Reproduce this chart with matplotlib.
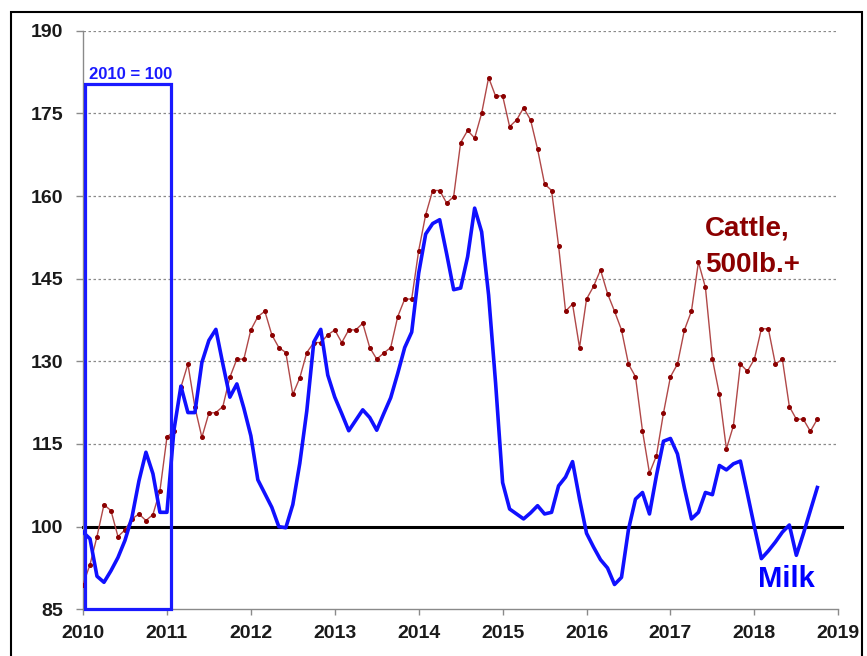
import numpy as np
from matplotlib import pyplot as plt
from matplotlib.patches import Rectangle

# monthly index values, Jan 2010 .. Oct 2018 (2010 = 100)
cattle = [89.5, 93.1, 98.2, 104.0, 102.9, 98.2, 99.4, 101.4, 102.3, 101.1, 102.2, 106.5,
          116.2, 117.4, 125.3, 129.5, 121.7, 116.2, 120.6, 120.7, 121.8, 127.1, 130.4, 130.4,
          135.7, 138.1, 139.1, 134.8, 132.5, 131.6, 124.0, 127.0, 131.6, 133.4, 133.4, 134.8,
          135.7, 133.4, 135.7, 135.7, 136.9, 132.5, 130.4, 131.5, 132.5, 138.1, 141.3, 141.3,
          150.1, 156.6, 161.0, 161.0, 158.7, 159.9, 169.7, 171.9, 170.5, 175.0, 181.5, 178.1,
          178.2, 172.6, 173.8, 176.0, 173.8, 168.5, 162.2, 161.0, 151.0, 139.1, 140.4, 132.5,
          141.3, 143.6, 146.6, 142.3, 139.1, 135.7, 129.5, 127.2, 117.4, 109.7, 112.9, 120.6,
          127.2, 129.5, 135.7, 139.1, 148.0, 143.4, 130.4, 124.0, 114.1, 118.3, 129.5, 128.2,
          130.4, 135.9, 135.9, 129.5, 130.4, 121.8, 119.5, 119.5, 117.3, 119.5]

milk = [99.0, 97.8, 91.0, 89.9, 92.0, 94.4, 97.5, 101.7, 108.3, 113.5, 109.6, 102.6,
        102.6, 117.5, 125.5, 120.7, 120.7, 129.8, 133.8, 135.8, 129.5, 123.5, 125.9, 121.5,
        116.5, 108.5, 106.0, 103.5, 100.0, 99.8, 104.0, 111.5, 121.0, 133.5, 135.8, 127.5,
        123.5, 120.5, 117.4, 119.3, 121.2, 119.8, 117.5, 120.5, 123.4, 127.8, 132.5, 135.3,
        146.0, 153.1, 155.0, 155.7, 149.5, 143.0, 143.3, 149.0, 157.8, 153.5, 142.0, 126.0,
        108.0, 103.2, 102.3, 101.4, 102.5, 103.8, 102.3, 102.6, 107.4, 109.0, 111.8, 105.0,
        98.8, 96.3, 94.0, 92.5, 89.5, 90.8, 99.5, 105.0, 106.2, 102.3, 109.3, 115.5,
        116.0, 113.2, 107.0, 101.4, 102.6, 106.2, 105.8, 111.1, 110.3, 111.4, 111.9, 106.0,
        100.0, 94.2, 95.6, 97.2, 99.0, 100.3, 94.8, 98.7, 102.9, 107.1]

year_ticks = list(range(2010, 2020))
value_ticks = [85, 100, 115, 130, 145, 160, 175, 190]

plt.rcParams['font.family'] = ['Liberation Sans', 'DejaVu Sans']
plt.rcParams['font.weight'] = 'bold'

x = 2010 + np.arange(len(cattle)) / 12.0

fig = plt.figure(figsize=(8.67, 6.56), dpi=100)
ax = fig.add_axes([83 / 867, 1 - 609.3 / 656, 755.3 / 867, 578.6 / 656])

# frame around the whole chart
fig.patches.append(Rectangle((11 / 867, -0.02), 851 / 867, 1.02 - 12 / 656,
                             transform=fig.transFigure, fill=False,
                             edgecolor='black', linewidth=1.5))

for v in value_ticks[2:]:
    ax.axhline(v, color='#8a8a8a', linestyle=(0, (2, 2)), linewidth=0.9, zorder=1)
ax.axhline(100, xmin=0, xmax=1.005, color='black', linewidth=2.2, zorder=2, clip_on=False)

ax.plot(x, cattle, color='#b04848', linewidth=1.0, marker='o', markersize=2.6,
        markerfacecolor='#8b0000', markeredgecolor='#8b0000', zorder=3)
ax.plot(x, milk, color='#1010ff', linewidth=2.6, zorder=4)

ax.add_patch(Rectangle((2010.02, 85), 1.03, 95.3, fill=False, edgecolor='#1a1aff',
                       linewidth=2.3, zorder=5, clip_on=False))
ax.text(2010.07, 181.2, '2010 = 100', color='#1a1aff', fontsize=12, fontweight='bold',
        ha='left', va='baseline')

ax.text(2017.41, 152.9, 'Cattle,', color='#8b0000', fontsize=20, fontweight='bold',
        ha='left', va='baseline')
ax.text(2017.41, 146.3, '500lb.+', color='#8b0000', fontsize=20, fontweight='bold',
        ha='left', va='baseline')
ax.text(2018.045, 89.1, 'Milk', color='#0000ff', fontsize=21, fontweight='bold',
        ha='left', va='baseline')

ax.set_xlim(2010, 2019)
ax.set_ylim(85, 190)
ax.set_xticks(year_ticks)
ax.set_yticks(value_ticks)
ax.set_xticklabels([str(y) for y in year_ticks])
ax.set_yticklabels([str(v) for v in value_ticks])
ax.tick_params(axis='y', length=5, width=1, color='#8a8a8a', pad=9,
               labelsize=14, labelcolor='#1a1a1a')
ax.tick_params(axis='x', length=4.5, width=1, color='#8a8a8a', pad=7,
               labelsize=14, labelcolor='#1a1a1a')

for side in ['top', 'right']:
    ax.spines[side].set_visible(False)
for side in ['left', 'bottom']:
    ax.spines[side].set_color('#8a8a8a')
    ax.spines[side].set_linewidth(1.0)

fig.savefig('out.png', dpi=100)
